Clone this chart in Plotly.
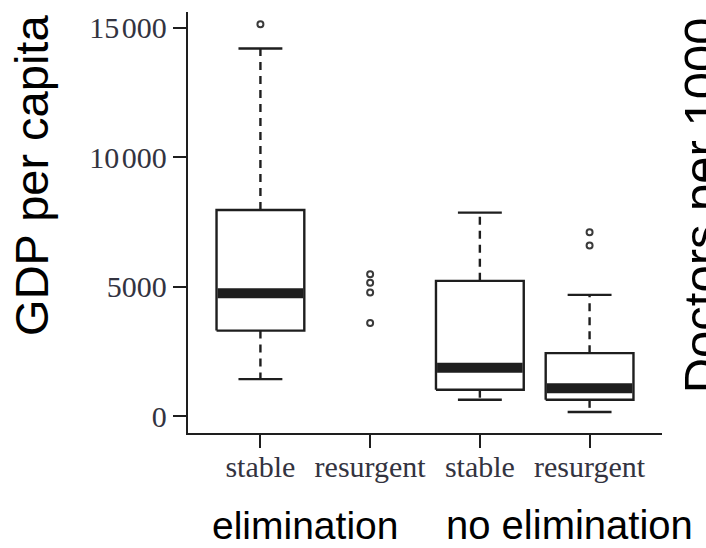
import plotly.graph_objects as go

# ---- data ----
categories = ["stable", "resurgent", "stable", "resurgent"]
groups = ["elimination", "no elimination"]
q1 = [3310, None, 1030, 640]
median = [4750, None, 1880, 1090]
q3 = [7960, None, 5230, 2440]
lower_whisker = [1440, None, 640, 170]
upper_whisker = [14190, None, 7860, 4690]
outliers = [[15130], [5480, 5160, 4780, 3600], [], [7100, 6590]]

y_ticks = [0, 5000, 10000, 15000]
y_ticktext = ["0", "5000", "10\u200a000", "15\u200a000"]

# ---- style ----
BOXW = 0.8
INK = "#1e1e1e"
TICKFONT = dict(family="Liberation Serif, Times New Roman, serif", size=30, color="#333340")
LABFONT = "Liberation Sans, Arial, sans-serif"

fig = go.Figure()
for i in range(len(categories)):
    if q1[i] is not None:
        l, r = i - BOXW / 2, i + BOXW / 2
        # whiskers (dashed)
        fig.add_trace(go.Scatter(x=[i, i], y=[q3[i], upper_whisker[i]], mode="lines",
                                 line=dict(color=INK, width=2.4, dash="8px,6px"), hoverinfo="skip"))
        fig.add_trace(go.Scatter(x=[i, i], y=[q1[i], lower_whisker[i]], mode="lines",
                                 line=dict(color=INK, width=2.4, dash="8px,6px"), hoverinfo="skip"))
        # caps
        for v in (upper_whisker[i], lower_whisker[i]):
            fig.add_trace(go.Scatter(x=[i - BOXW / 4, i + BOXW / 4], y=[v, v], mode="lines",
                                     line=dict(color=INK, width=2.4), hoverinfo="skip"))
        # box
        fig.add_trace(go.Scatter(x=[l, r, r, l, l], y=[q1[i], q1[i], q3[i], q3[i], q1[i]],
                                 mode="lines", fill="toself", fillcolor="white",
                                 line=dict(color=INK, width=2.4), hoverinfo="skip"))
        # median
        fig.add_trace(go.Scatter(x=[l + 0.01, r - 0.01], y=[median[i], median[i]], mode="lines",
                                 line=dict(color=INK, width=10), hoverinfo="skip"))
    if outliers[i]:
        fig.add_trace(go.Scatter(x=[i] * len(outliers[i]), y=outliers[i], mode="markers",
                                 marker=dict(symbol="circle-open", size=6, color="#3a3a3a",
                                             line=dict(width=2)), hoverinfo="skip"))

fig.update_layout(
    width=706, height=548,
    margin=dict(l=188, r=44, t=12, b=115),
    plot_bgcolor="white", paper_bgcolor="white",
    showlegend=False,
    xaxis=dict(range=[-0.66, 3.66], tickmode="array", tickvals=list(range(len(categories))),
               ticktext=categories, showgrid=False, zeroline=False,
               showline=True, linecolor=INK, linewidth=2.4,
               ticks="outside", ticklen=13, tickwidth=2.4, tickcolor=INK,
               tickfont=TICKFONT, ticklabelstandoff=-7),
    yaxis=dict(range=[-640, 15600], tickmode="array", tickvals=y_ticks, ticktext=y_ticktext,
               showgrid=False, zeroline=False,
               showline=True, linecolor=INK, linewidth=2.4,
               ticks="outside", ticklen=13, tickwidth=2.4, tickcolor=INK,
               tickfont=TICKFONT),
    annotations=[
        dict(text="GDP per capita", xref="paper", yref="paper", x=-0.33, y=0.612,
             textangle=-90, showarrow=False, xanchor="center", yanchor="middle",
             font=dict(family=LABFONT, size=47, color="black")),
        dict(text="Doctors per 1000", xref="paper", yref="paper", x=1.083, y=0.5416,
             textangle=-90, showarrow=False, xanchor="center", yanchor="middle",
             font=dict(family=LABFONT, size=49, color="black")),
        dict(text=groups[0], xref="paper", yref="paper", x=0.247, y=-0.2725,
             showarrow=False, xanchor="center", yanchor="bottom", borderpad=0,
             font=dict(family=LABFONT, size=39, color="black")),
        dict(text=groups[1], xref="paper", yref="paper", x=0.805, y=-0.2725,
             showarrow=False, xanchor="center", yanchor="bottom", borderpad=0,
             font=dict(family=LABFONT, size=40, color="black")),
    ],
)

fig.write_html("out.html")
